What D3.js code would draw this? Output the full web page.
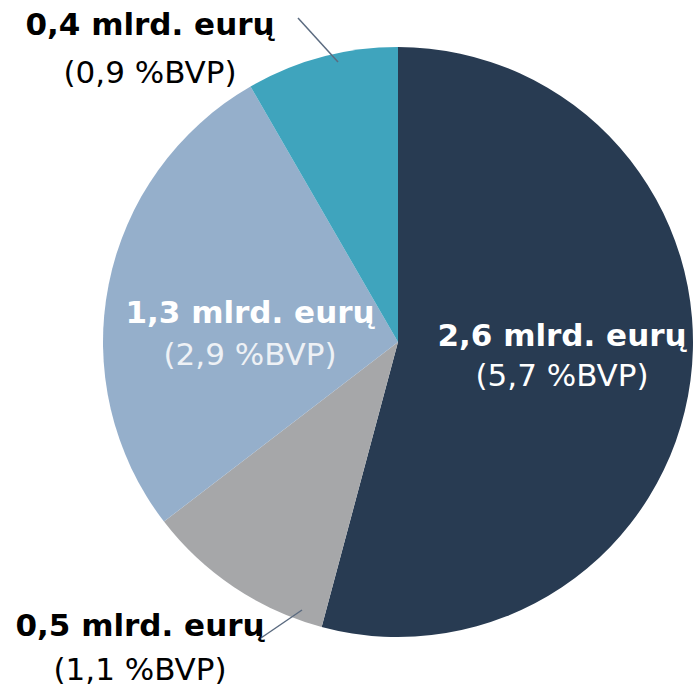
<!DOCTYPE html>
<html>
<head>
<meta charset="utf-8">
<script src="https://cdn.jsdelivr.net/npm/d3@7"></script>
<style>
  body { margin: 0; background: #fff; }
  svg { display: block; }
  text { font-family: "DejaVu Sans", Verdana, sans-serif; }
</style>
</head>
<body>
<svg width="695" height="689"></svg>
<script>
const amounts = [2.6, 0.5, 1.3, 0.4];
const amountLabels = ["2,6 mlrd. eurų", "0,5 mlrd. eurų", "1,3 mlrd. eurų", "0,4 mlrd. eurų"];
const gdpLabels = ["(5,7 %BVP)", "(1,1 %BVP)", "(2,9 %BVP)", "(0,9 %BVP)"];
const colors = ["#283b52", "#a6a7a9", "#95afcb", "#3fa4bd"];

const svg = d3.select("svg");
const cx = 398, cy = 342, radius = 295;

const pie = d3.pie().sort(null).value(d => d);
const arc = d3.arc().innerRadius(0).outerRadius(radius);
const arcs = pie(amounts);

const g = svg.append("g").attr("transform", `translate(${cx},${cy})`);

g.selectAll("path")
  .data(arcs)
  .enter()
  .append("path")
  .attr("d", arc)
  .attr("fill", (d, i) => colors[i]);

// label layout relative to the pie centre: [x, first baseline, second baseline]
const labelPos = [[164, 4, 44], [-258, 294, 338], [-148, -19, 23], [-248, -307, -259]];
const labelFill = ["#fff", "#000", "#fff", "#000"];
const gdpFill = ["#fff", "#000", "#eef1f5", "#000"];

// leader lines for the two outside labels
const leaders = [
  { from: [-60, -280], to: [-100, -324] },
  { from: [-96, 268], to: [-140, 298] }
];

g.selectAll("line.leader")
  .data(leaders)
  .enter()
  .append("line")
  .attr("class", "leader")
  .attr("x1", d => d.from[0])
  .attr("y1", d => d.from[1])
  .attr("x2", d => d.to[0])
  .attr("y2", d => d.to[1])
  .attr("stroke", "#5b6b80")
  .attr("stroke-width", 1.5);

const labels = g.selectAll("text.label")
  .data(arcs)
  .enter()
  .append("text")
  .attr("class", "label")
  .attr("text-anchor", "middle");

labels.append("tspan")
  .attr("x", (d, i) => labelPos[i][0])
  .attr("y", (d, i) => labelPos[i][1])
  .attr("font-size", 31)
  .attr("font-weight", "bold")
  .attr("fill", (d, i) => labelFill[i])
  .text((d, i) => amountLabels[i]);

labels.append("tspan")
  .attr("x", (d, i) => labelPos[i][0])
  .attr("y", (d, i) => labelPos[i][2])
  .attr("font-size", 31)
  .attr("fill", (d, i) => gdpFill[i])
  .text((d, i) => gdpLabels[i]);
</script>
</body>
</html>
